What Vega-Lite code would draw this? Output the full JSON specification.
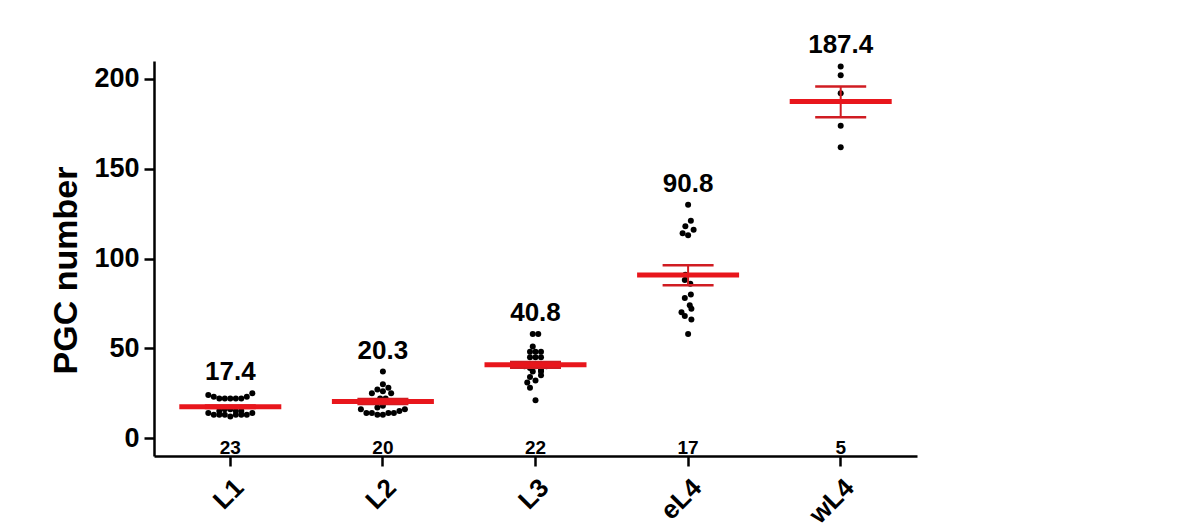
{
  "$schema": "https://vega.github.io/schema/vega-lite/v6.json",
  "width": 763,
  "height": 395,
  "autosize": {"type": "none"},
  "padding": {"left": 154, "top": 61, "right": 283, "bottom": 72},
  "background": "white",
  "config": {
    "view": {"stroke": null},
    "font": "Liberation Sans",
    "axis": {
      "domainColor": "black", "domainWidth": 2.5,
      "tickColor": "black", "tickWidth": 2.5, "tickSize": 10,
      "labelColor": "black", "labelFont": "Liberation Sans", "labelFontWeight": "bold",
      "grid": false,
      "titleFont": "Liberation Sans", "titleFontWeight": "bold", "titleColor": "black"
    }
  },
  "datasets": {
    "points": [
      {"stage": "L1", "value": 24, "slot": -4}, {"stage": "L1", "value": 23, "slot": -3}, {"stage": "L1", "value": 22, "slot": -2},
      {"stage": "L1", "value": 22, "slot": -1}, {"stage": "L1", "value": 22, "slot": 0}, {"stage": "L1", "value": 22, "slot": 1},
      {"stage": "L1", "value": 22, "slot": 2}, {"stage": "L1", "value": 23, "slot": 3}, {"stage": "L1", "value": 25, "slot": 4},
      {"stage": "L1", "value": 15, "slot": -2}, {"stage": "L1", "value": 16, "slot": -1}, {"stage": "L1", "value": 16, "slot": 0},
      {"stage": "L1", "value": 15, "slot": 1}, {"stage": "L1", "value": 15, "slot": 2},
      {"stage": "L1", "value": 14, "slot": -4}, {"stage": "L1", "value": 13, "slot": -3}, {"stage": "L1", "value": 13, "slot": -2},
      {"stage": "L1", "value": 13, "slot": -1}, {"stage": "L1", "value": 12, "slot": 0}, {"stage": "L1", "value": 13, "slot": 1},
      {"stage": "L1", "value": 13, "slot": 2}, {"stage": "L1", "value": 13, "slot": 3}, {"stage": "L1", "value": 14, "slot": 4},

      {"stage": "L2", "value": 37, "slot": 0}, {"stage": "L2", "value": 30, "slot": 0}, {"stage": "L2", "value": 27, "slot": -1},
      {"stage": "L2", "value": 28, "slot": 1}, {"stage": "L2", "value": 25, "slot": -2}, {"stage": "L2", "value": 26, "slot": 0},
      {"stage": "L2", "value": 25, "slot": 1.5}, {"stage": "L2", "value": 22, "slot": -0.5}, {"stage": "L2", "value": 22, "slot": 0.5},
      {"stage": "L2", "value": 17, "slot": -1}, {"stage": "L2", "value": 18, "slot": 0},
      {"stage": "L2", "value": 16, "slot": -4}, {"stage": "L2", "value": 14, "slot": -3}, {"stage": "L2", "value": 14, "slot": -2},
      {"stage": "L2", "value": 13, "slot": -1}, {"stage": "L2", "value": 13, "slot": 0}, {"stage": "L2", "value": 14, "slot": 1},
      {"stage": "L2", "value": 14, "slot": 2}, {"stage": "L2", "value": 15, "slot": 3}, {"stage": "L2", "value": 16, "slot": 4},

      {"stage": "L3", "value": 58, "slot": -0.5}, {"stage": "L3", "value": 58, "slot": 0.5}, {"stage": "L3", "value": 51, "slot": -0.5},
      {"stage": "L3", "value": 48, "slot": -1}, {"stage": "L3", "value": 48, "slot": 0}, {"stage": "L3", "value": 48, "slot": 1},
      {"stage": "L3", "value": 45, "slot": -1}, {"stage": "L3", "value": 45, "slot": 0}, {"stage": "L3", "value": 45, "slot": 1},
      {"stage": "L3", "value": 40, "slot": -2}, {"stage": "L3", "value": 39, "slot": -1}, {"stage": "L3", "value": 40, "slot": 0},
      {"stage": "L3", "value": 38, "slot": 1}, {"stage": "L3", "value": 40, "slot": 2},
      {"stage": "L3", "value": 37, "slot": -0.5}, {"stage": "L3", "value": 37, "slot": 1}, {"stage": "L3", "value": 34, "slot": -1},
      {"stage": "L3", "value": 35, "slot": 1}, {"stage": "L3", "value": 31, "slot": -1.5}, {"stage": "L3", "value": 32, "slot": 0},
      {"stage": "L3", "value": 28, "slot": -1}, {"stage": "L3", "value": 21, "slot": 0},

      {"stage": "eL4", "value": 130, "slot": 0}, {"stage": "eL4", "value": 121, "slot": 0.5}, {"stage": "eL4", "value": 118, "slot": -0.5},
      {"stage": "eL4", "value": 116, "slot": 1}, {"stage": "eL4", "value": 114, "slot": -1}, {"stage": "eL4", "value": 113, "slot": 0},
      {"stage": "eL4", "value": 91, "slot": -0.5}, {"stage": "eL4", "value": 88, "slot": -0.6}, {"stage": "eL4", "value": 86, "slot": 0.4},
      {"stage": "eL4", "value": 80, "slot": 0.5}, {"stage": "eL4", "value": 78, "slot": -0.6}, {"stage": "eL4", "value": 74, "slot": 0.3},
      {"stage": "eL4", "value": 72, "slot": 0.6}, {"stage": "eL4", "value": 70, "slot": -1.2}, {"stage": "eL4", "value": 68, "slot": -0.6},
      {"stage": "eL4", "value": 66, "slot": 0.6}, {"stage": "eL4", "value": 58, "slot": 0},

      {"stage": "wL4", "value": 207, "slot": 0}, {"stage": "wL4", "value": 202, "slot": 0}, {"stage": "wL4", "value": 192, "slot": 0},
      {"stage": "wL4", "value": 174, "slot": 0}, {"stage": "wL4", "value": 162, "slot": 0}
    ],
    "summary": [
      {"stage": "L1", "mean": 17.4, "lo": 16.7, "hi": 18.1, "n": 23, "max": 25},
      {"stage": "L2", "mean": 20.3, "lo": 18.9, "hi": 21.7, "n": 20, "max": 37},
      {"stage": "L3", "mean": 40.8, "lo": 39.2, "hi": 42.4, "n": 22, "max": 58},
      {"stage": "eL4", "mean": 90.8, "lo": 85.1, "hi": 96.2, "n": 17, "max": 130},
      {"stage": "wL4", "mean": 187.4, "lo": 178.7, "hi": 195.8, "n": 5, "max": 207}
    ]
  },
  "encoding": {
    "x": {
      "field": "stage", "type": "nominal", "title": null,
      "scale": {"type": "band", "domain": ["L1", "L2", "L3", "eL4", "wL4"], "paddingInner": 0, "paddingOuter": 0},
      "axis": {"labelAngle": -45, "labelFontSize": 26, "labelPadding": 8}
    }
  },
  "layer": [
    {
      "data": {"name": "points"},
      "mark": {"type": "circle", "size": 36, "color": "black", "opacity": 1},
      "encoding": {
        "y": {
          "field": "value", "type": "quantitative", "title": "PGC number",
          "scale": {"domain": [-10, 210], "nice": false, "zero": false},
          "axis": {"values": [0, 50, 100, 150, 200], "labelFontSize": 27, "labelPadding": 5,
                   "titleFontSize": 34, "titleAngle": -90, "titleX": -88, "titleY": 209,
                   "titleAlign": "center", "titleBaseline": "middle"}
        },
        "xOffset": {"field": "slot", "type": "quantitative", "scale": {"domain": [-13.87, 13.87], "nice": false, "zero": false}}
      }
    },
    {
      "data": {"name": "summary"},
      "mark": {"type": "rule", "color": "#d01c22", "strokeWidth": 2},
      "encoding": {
        "y": {"field": "lo", "type": "quantitative", "title": "PGC number"},
        "y2": {"field": "hi"}
      }
    },
    {
      "data": {"name": "summary"},
      "mark": {"type": "tick", "color": "#d01c22", "opacity": 1, "size": 51, "thickness": 2.5},
      "encoding": {"y": {"field": "lo", "type": "quantitative", "title": "PGC number"}}
    },
    {
      "data": {"name": "summary"},
      "mark": {"type": "tick", "color": "#d01c22", "opacity": 1, "size": 51, "thickness": 2.5},
      "encoding": {"y": {"field": "hi", "type": "quantitative", "title": "PGC number"}}
    },
    {
      "data": {"name": "summary"},
      "mark": {"type": "tick", "color": "#e8161c", "opacity": 1, "size": 102, "thickness": 5},
      "encoding": {"y": {"field": "mean", "type": "quantitative", "title": "PGC number"}}
    },
    {
      "data": {"name": "summary"},
      "mark": {"type": "text", "fontSize": 26, "fontWeight": "bold", "color": "black", "baseline": "alphabetic", "align": "center", "dy": -13},
      "encoding": {
        "y": {"field": "max", "type": "quantitative", "title": "PGC number"},
        "text": {"field": "mean", "type": "quantitative", "format": ".1f"}
      }
    },
    {
      "data": {"name": "summary"},
      "mark": {"type": "text", "fontSize": 19, "fontWeight": "bold", "color": "black", "baseline": "alphabetic", "align": "center", "dy": 16},
      "encoding": {
        "y": {"datum": 0},
        "text": {"field": "n", "type": "quantitative"}
      }
    }
  ]
}
